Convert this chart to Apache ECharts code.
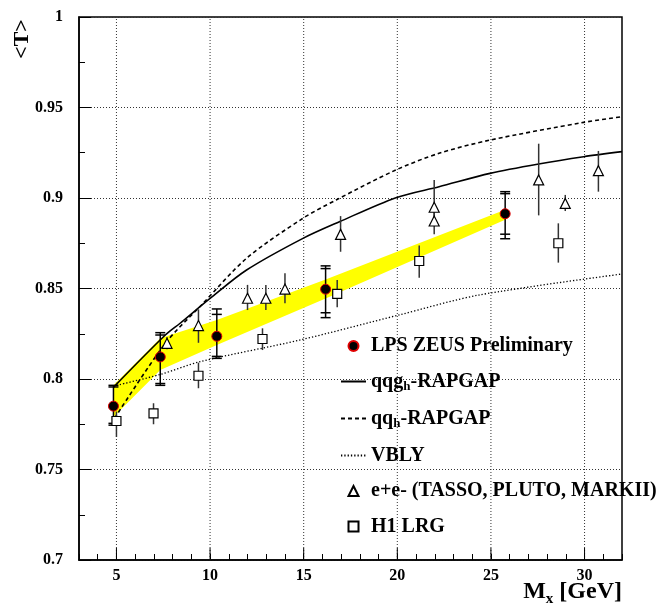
<!DOCTYPE html>
<html>
<head>
<meta charset="utf-8">
<script src="https://cdn.jsdelivr.net/npm/echarts@6/dist/echarts.min.js"></script>
<style>
  html, body { margin: 0; padding: 0; background: #fff; }
  #chart { width: 659px; height: 603px; }
</style>
</head>
<body>
<div id="chart"></div>
<script>
// LPS ZEUS preliminary points, stat (inner) and total (outer) error bar ends
var zeusX = [4.84, 7.34, 10.36, 16.17, 25.76];
var zeusY = [0.785, 0.8122, 0.8236, 0.8496, 0.8913];
var zeusInLo = [0.7755, 0.7975, 0.8125, 0.8366, 0.880];
var zeusInHi = [0.7956, 0.8243, 0.8357, 0.861, 0.9024];
var zeusOutLo = [0.7745, 0.7965, 0.8114, 0.8339, 0.8775];
var zeusOutHi = [0.7965, 0.8256, 0.8387, 0.8625, 0.9035];

// yellow band around the ZEUS points
var bandX = [4.84, 7.34, 10.36, 16.17, 25.76];
var bandLo = [0.779, 0.805, 0.8188, 0.8445, 0.888];
var bandHi = [0.7965, 0.8225, 0.8326, 0.855, 0.8935];

// e+e- (TASSO, PLUTO, MARKII)
var eeX = [7.70, 9.38, 12.0, 12.98, 14.0, 16.97, 21.97, 21.97, 27.55, 28.97, 30.74];
var eeY = [0.8197, 0.8295, 0.8446, 0.8446, 0.8497, 0.8799, 0.8949, 0.8873, 0.910, 0.897, 0.9151];
var eeLo = [0.8165, 0.820, 0.8381, 0.8381, 0.8418, 0.8703, 0.8875, 0.880, 0.8904, 0.8928, 0.9035];
var eeHi = [0.823, 0.8385, 0.852, 0.852, 0.8584, 0.890, 0.910, 0.894, 0.930, 0.9017, 0.926];

// H1 LRG
var h1X = [5.0, 6.98, 9.38, 12.8, 16.79, 21.17, 28.6];
var h1Y = [0.7768, 0.781, 0.8018, 0.8221, 0.847, 0.8652, 0.875];
var h1Lo = [0.768, 0.775, 0.7949, 0.816, 0.8396, 0.856, 0.8643];
var h1Hi = [0.782, 0.7866, 0.809, 0.828, 0.8547, 0.8737, 0.886];

// model curves
var qqgX = [4.84, 7.61, 8.40, 10.0, 11.95, 14.96, 16.91, 19.93, 22.23, 24.95, 27.55, 29.95, 32];
var qqgY = [0.7954, 0.8243, 0.8308, 0.8445, 0.8602, 0.8777, 0.8869, 0.9002, 0.9062, 0.9136, 0.9188, 0.9228, 0.9256];
var qqX = [4.9, 7.61, 9.6, 11.95, 14.96, 16.73, 19.93, 22.23, 24.95, 29.95, 32];
var qqY = [0.7783, 0.8197, 0.8415, 0.8667, 0.8888, 0.8989, 0.9155, 0.9247, 0.932, 0.9418, 0.9449];
var vblyX = [4.84, 7.34, 9.47, 14.79, 20.1, 24.36, 32];
var vblyY = [0.7961, 0.8025, 0.8096, 0.8215, 0.8354, 0.8464, 0.858];

// axes
var xMajor = [5, 10, 15, 20, 25, 30];

var FONT = 'Liberation Serif';
var TRIANGLE = 'path://M5,0L10,10L0,10Z';
var SQUARE = 'path://M0,0H10V10H0Z';

function pairs(xs, ys) {
    return xs.map(function (x, i) { return [x, ys[i]]; });
}

var chart = echarts.init(document.getElementById('chart'));

var option = {
    animation: false,
    grid: {
        left: 79, right: 37, top: 17, bottom: 43,
        show: true, borderColor: '#000', borderWidth: 1.5
    },
    xAxis: {
        type: 'value', min: 3, max: 32, interval: 1,
        axisLine: { lineStyle: { color: '#000', width: 1.5 } },
        axisTick: { inside: true, length: 6, lineStyle: { color: '#000' } },
        axisLabel: {
            margin: 8, color: '#000', fontFamily: FONT, fontWeight: 'bold', fontSize: 16,
            formatter: function (v) { return Math.round(v) % 5 === 0 ? String(Math.round(v)) : ''; }
        },
        splitLine: { show: false }
    },
    yAxis: {
        type: 'value', min: 0.7, max: 1, interval: 0.05,
        axisLine: { lineStyle: { color: '#000', width: 1.5 } },
        axisTick: { inside: true, length: 12, lineStyle: { color: '#000' } },
        minorTick: { show: true, splitNumber: 2, length: 6, lineStyle: { color: '#000' } },
        axisLabel: { margin: 16, color: '#000', fontFamily: FONT, fontWeight: 'bold', fontSize: 16 },
        splitLine: { show: true, lineStyle: { color: '#333', type: [1, 2], width: 1 } }
    },
    legend: {
        orient: 'vertical', left: 335, top: 331,
        itemWidth: 25, itemHeight: 10, itemGap: 15.5,
        symbolKeepAspect: true,
        data: [
            { name: 'LPS ZEUS Preliminary' },
            { name: 'qqg_h-RAPGAP', itemStyle: { opacity: 0 } },
            { name: 'qq_h-RAPGAP', itemStyle: { opacity: 0 } },
            { name: 'VBLY', itemStyle: { opacity: 0 } },
            { name: 'e+e- (TASSO, PLUTO, MARKII)' },
            { name: 'H1 LRG' }
        ],
        formatter: function (name) {
            if (name === 'qqg_h-RAPGAP') return '{t|qqg}{s|h}{t|-RAPGAP}';
            if (name === 'qq_h-RAPGAP') return '{t|qq}{s|h}{t|-RAPGAP}';
            return '{t|' + name + '}';
        },
        textStyle: {
            color: '#000', fontFamily: FONT, fontWeight: 'bold', fontSize: 20, lineHeight: 20,
            rich: {
                t: { color: '#000', fontFamily: FONT, fontWeight: 'bold', fontSize: 20, lineHeight: 20 },
                s: { color: '#000', fontFamily: FONT, fontWeight: 'bold', fontSize: 13, padding: [10, 0, 0, 0] }
            }
        }
    },
    graphic: [
        {
            type: 'text', x: 22, y: 39, rotation: Math.PI / 2,
            style: { text: '<T>', align: 'center', verticalAlign: 'middle',
                     font: 'bold 22px "Liberation Serif"', fill: '#000' }
        },
        {
            type: 'text', x: 622, y: 592,
            style: {
                text: '{m|M}{s|x}{m| [GeV]}', align: 'right', verticalAlign: 'middle',
                rich: {
                    m: { fontFamily: FONT, fontWeight: 'bold', fontSize: 24, fill: '#000' },
                    s: { fontFamily: FONT, fontWeight: 'bold', fontSize: 15, fill: '#000', padding: [14, 0, 0, 0] }
                }
            }
        }
    ],
    series: [
        {
            // dotted vertical grid lines + long major ticks
            type: 'custom', z: 1, silent: true,
            data: xMajor.map(function (x) { return [x]; }),
            renderItem: function (params, api) {
                var b = api.coord([api.value(0), 0.7]);
                var t = api.coord([api.value(0), 1]);
                return {
                    type: 'group', children: [
                        { type: 'line', shape: { x1: b[0], y1: b[1], x2: t[0], y2: t[1] },
                          style: { stroke: '#333', lineWidth: 1, lineDash: [1, 2] } },
                        { type: 'line', shape: { x1: b[0], y1: b[1], x2: b[0], y2: b[1] - 12 },
                          style: { stroke: '#000', lineWidth: 1 } }
                    ]
                };
            }
        },
        {
            // yellow band
            type: 'custom', z: 2, silent: true,
            data: [[bandX[0], bandLo[0]]],
            renderItem: function (params, api) {
                var pts = [];
                for (var i = 0; i < bandX.length; i++) pts.push(api.coord([bandX[i], bandHi[i]]));
                for (var j = bandX.length - 1; j >= 0; j--) pts.push(api.coord([bandX[j], bandLo[j]]));
                return { type: 'polygon', shape: { points: pts }, style: { fill: '#ffff00' } };
            }
        },
        {
            name: 'qqg_h-RAPGAP', type: 'line', z: 3, symbol: 'none', smooth: 0.3,
            data: pairs(qqgX, qqgY),
            itemStyle: { color: '#000' },
            lineStyle: { color: '#000', width: 1.6, type: 'solid' }
        },
        {
            name: 'qq_h-RAPGAP', type: 'line', z: 3, symbol: 'none', smooth: 0.3,
            data: pairs(qqX, qqY),
            itemStyle: { color: '#000' },
            lineStyle: { color: '#000', width: 1.6, type: [4, 3] }
        },
        {
            name: 'VBLY', type: 'line', z: 3, symbol: 'none', smooth: 0.3,
            data: pairs(vblyX, vblyY),
            itemStyle: { color: '#000' },
            lineStyle: { color: '#000', width: 1.3, type: [1.3, 2] }
        },
        {
            // e+e- and H1 error bars (no caps)
            type: 'custom', z: 4, silent: true,
            data: eeX.map(function (x, i) { return [x, eeLo[i], eeHi[i]]; })
                .concat(h1X.map(function (x, i) { return [x, h1Lo[i], h1Hi[i]]; })),
            renderItem: function (params, api) {
                var lo = api.coord([api.value(0), api.value(1)]);
                var hi = api.coord([api.value(0), api.value(2)]);
                return { type: 'line', shape: { x1: lo[0], y1: lo[1], x2: hi[0], y2: hi[1] },
                         style: { stroke: '#333', lineWidth: 1.5 } };
            }
        },
        {
            // ZEUS error bars with stat and total caps
            type: 'custom', z: 4, silent: true,
            data: zeusX.map(function (x, i) {
                return [x, zeusOutLo[i], zeusOutHi[i], zeusInLo[i], zeusInHi[i]];
            }),
            renderItem: function (params, api) {
                var x = api.value(0);
                var ends = [1, 2, 3, 4].map(function (k) { return api.coord([x, api.value(k)]); });
                var st = { stroke: '#000', lineWidth: 1.5 };
                var kids = [{ type: 'line', shape: { x1: ends[0][0], y1: ends[0][1], x2: ends[1][0], y2: ends[1][1] }, style: st }];
                ends.forEach(function (p) {
                    kids.push({ type: 'line', shape: { x1: p[0] - 5, y1: p[1], x2: p[0] + 5, y2: p[1] }, style: st });
                });
                return { type: 'group', children: kids };
            }
        },
        {
            name: 'e+e- (TASSO, PLUTO, MARKII)', type: 'scatter', z: 5,
            symbol: TRIANGLE, symbolSize: 10, symbolKeepAspect: true,
            data: pairs(eeX, eeY),
            itemStyle: { color: '#fff', borderColor: '#000', borderWidth: 1.2, opacity: 1 }
        },
        {
            name: 'H1 LRG', type: 'scatter', z: 5,
            symbol: SQUARE, symbolSize: 9, symbolKeepAspect: true,
            data: pairs(h1X, h1Y),
            itemStyle: { color: '#fff', borderColor: '#000', borderWidth: 1.2, opacity: 1 }
        },
        {
            name: 'LPS ZEUS Preliminary', type: 'scatter', z: 6,
            symbol: 'circle', symbolSize: 10,
            data: pairs(zeusX, zeusY),
            itemStyle: { color: '#000', borderColor: '#e00000', borderWidth: 1, opacity: 1 }
        }
    ]
};

chart.setOption(option);
</script>
</body>
</html>
